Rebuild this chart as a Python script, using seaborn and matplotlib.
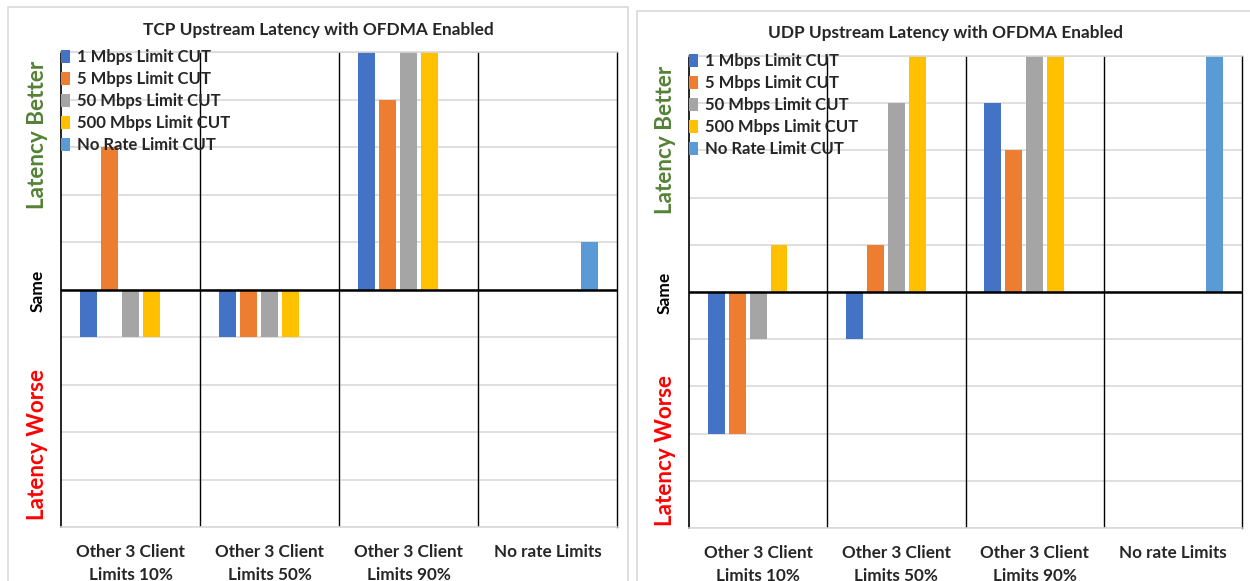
import matplotlib
matplotlib.use("Agg")
import matplotlib.pyplot as plt
from matplotlib.patches import Rectangle
import seaborn as sns
import pandas as pd

groups = ["Other 3 Client\nLimits 10%", "Other 3 Client\nLimits 50%",
          "Other 3 Client\nLimits 90%", "No rate Limits"]
series = ["1 Mbps Limit CUT", "5 Mbps Limit CUT", "50 Mbps Limit CUT",
          "500 Mbps Limit CUT", "No Rate Limit CUT"]
colors = ["#4472C4", "#ED7D31", "#A5A5A5", "#FFC000", "#5B9BD5"]

# values per series, ordered by group
tcp_1m = [-1, -1, 5, 0]
tcp_5m = [3, -1, 4, 0]
tcp_50m = [-1, -1, 5, 0]
tcp_500m = [-1, -1, 5, 0]
tcp_norate = [0, 0, 0, 1]

udp_1m = [-3, -1, 4, 0]
udp_5m = [-3, 1, 3, 0]
udp_50m = [-1, 4, 5, 0]
udp_500m = [1, 5, 5, 0]
udp_norate = [0, 0, 0, 5]

titles = ["TCP Upstream Latency with OFDMA Enabled",
          "UDP Upstream Latency with OFDMA Enabled"]


def long_df(cols):
    rows = []
    for s, vals in zip(series, cols):
        for g, v in zip(groups, vals):
            rows.append({"group": g, "series": s, "value": v})
    return pd.DataFrame(rows)


tcp_df = long_df([tcp_1m, tcp_5m, tcp_50m, tcp_500m, tcp_norate])
udp_df = long_df([udp_1m, udp_5m, udp_50m, udp_500m, udp_norate])

sns.set_style("white")
FONT = ["Lato", "DejaVu Sans"]
plt.rcParams["font.family"] = FONT

W, H = 1250, 581
fig = plt.figure(figsize=(W / 100, H / 100), dpi=100)


def fx(px):
    return px / W


def fy(py):
    return 1 - py / H


# panel borders
fig.patches.append(Rectangle((fx(8), fy(590)), fx(628) - fx(8), fy(7) - fy(590),
                             transform=fig.transFigure, fill=False,
                             edgecolor="#d9d9d9", lw=1.2))
fig.patches.append(Rectangle((fx(637), fy(590)), fx(1260) - fx(637), fy(11) - fy(590),
                             transform=fig.transFigure, fill=False,
                             edgecolor="#d9d9d9", lw=1.2))

panels = [
    dict(df=tcp_df, left=61, right=617, top=52, bottom=527, title=titles[0],
         tx=318, ty=30, lx=38, better=135, same=291, worse=445),
    dict(df=udp_df, left=689, right=1242, top=56, bottom=528, title=titles[1],
         tx=946, ty=33, lx=665, better=140, same=293, worse=450),
]

for p in panels:
    ax = fig.add_axes([fx(p["left"]), fy(p["bottom"]),
                       fx(p["right"]) - fx(p["left"]), fy(p["top"]) - fy(p["bottom"])])
    sns.barplot(data=p["df"], x="group", y="value", hue="series", order=groups,
                hue_order=series, palette=colors, width=0.755, gap=0.19,
                errorbar=None, linewidth=0, saturation=1, ax=ax, zorder=2)
    ax.set_ylim(-5, 5)
    ax.set_xlim(-0.5, 3.5)
    ax.set_yticks(range(-5, 6))
    ax.set_yticklabels([])
    ax.yaxis.grid(True, color="#d9d9d9", lw=1.2, zorder=0)
    ax.set_axisbelow(True)
    ax.set_xlabel("")
    ax.set_ylabel("")
    ax.tick_params(axis="both", length=0)
    ax.tick_params(axis="x", pad=12)
    for lab in ax.get_xticklabels():
        lab.set_fontweight("bold")
        lab.set_fontsize(12.3)
        lab.set_linespacing(1.6)
    for side in ["top", "bottom"]:
        ax.spines[side].set_color("#d9d9d9")
        ax.spines[side].set_linewidth(1.2)
    ax.spines["left"].set_color("black")
    ax.spines["left"].set_linewidth(1.2)
    ax.spines["right"].set_color("black")
    ax.spines["right"].set_linewidth(1.0)
    for xv in [0.5, 1.5, 2.5]:
        ax.axvline(xv, color="black", lw=1.0, zorder=1)
    ax.axhline(0, color="black", lw=1.8, zorder=3)

    leg = ax.legend(loc="upper left", bbox_to_anchor=(0.0, 1.006), frameon=False,
                    borderaxespad=0, borderpad=0, handlelength=0.55, handleheight=0.8,
                    handletextpad=0.4, labelspacing=0.36,
                    prop={"family": FONT, "weight": "bold", "size": 12})

    fig.text(fx(p["tx"]), fy(p["ty"]), p["title"], ha="center", va="center",
             fontsize=12.4, fontweight="bold")
    fig.text(fx(p["lx"]), fy(p["better"]), "Latency Better", rotation=90, ha="center",
             va="center", fontsize=16.2, fontweight="bold", color="#548235")
    fig.text(fx(p["lx"]), fy(p["same"]), "Same", rotation=90, ha="center",
             va="center", fontsize=12.5, fontweight="bold", color="black")
    fig.text(fx(p["lx"]), fy(p["worse"]), "Latency Worse", rotation=90, ha="center",
             va="center", fontsize=16.2, fontweight="bold", color="#FF0000")

fig.savefig("out.png", dpi=100)
